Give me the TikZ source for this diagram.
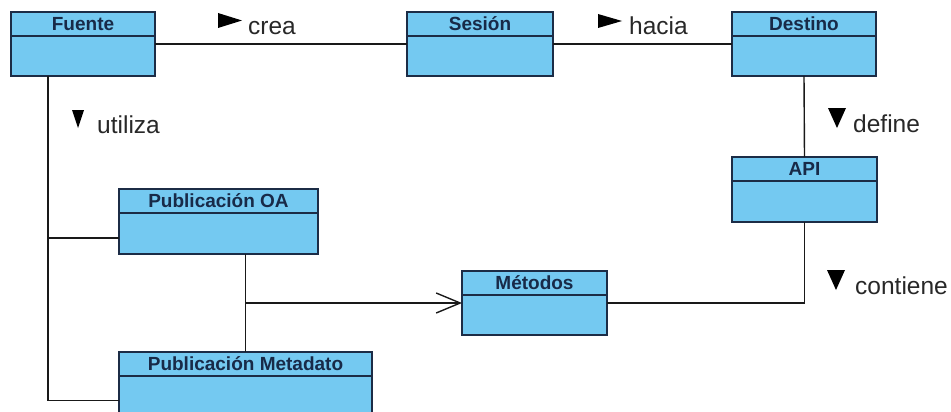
\documentclass[tikz,border=0pt]{standalone}
\usepackage{fontspec}
\setmainfont{Liberation Sans}
\usetikzlibrary{arrows.meta}
\definecolor{classfill}{RGB}{116,201,241}
\definecolor{classedge}{RGB}{28,44,70}
\definecolor{classtext}{RGB}{24,42,72}
\definecolor{labeltext}{RGB}{40,40,40}
\tikzset{
  classbox/.style={draw=classedge, fill=classfill, line width=1.3pt, inner sep=0pt, outer sep=0pt, anchor=north west},
  classrule/.style={draw=classedge, line width=1.3pt},
  classtitle/.style={text=classtext, font=\bfseries\fontsize{19}{20}\selectfont, inner sep=0pt, anchor=base},
  assoc/.style={draw=black!90, line width=1.4pt},
  rolelabel/.style={text=labeltext, font=\fontsize{24.5}{26}\selectfont, inner sep=0pt, anchor=base west},
  dirmark/.style={fill=black},
}
% \umlclass{name}{x}{y}{width}{height}{title}: class box with a title band
\newcommand{\umlclass}[6]{%
  \node[classbox, minimum width=#4pt, minimum height=#5pt] (#1) at (#2,#3) {};
  \draw[classrule] ([yshift=-24pt]#1.north west) -- ([yshift=-24pt]#1.north east);
  \node[classtitle] (#1-title) at ([yshift=-18.5pt]#1.north) {#6};
}
\begin{document}
\begin{tikzpicture}[x=1pt, y=-1pt]
  \useasboundingbox (0,0) rectangle (951,412);
  \clip (0,0) rectangle (951,412);
  \fill[white] (0,0) rectangle (951,412);

  % classes
  \umlclass{fuente}{11}{12}{144}{64}{Fuente}
  \umlclass{sesion}{407}{12}{146}{64}{Sesión}
  \umlclass{destino}{732}{12}{144}{64}{Destino}
  \umlclass{api}{732}{157}{145}{65}{API}
  \umlclass{puboa}{119}{189}{199}{65}{Publicación OA}
  \umlclass{metodos}{462}{271}{145}{64}{Métodos}
  \umlclass{pubmeta}{119}{352}{253}{66}{Publicación Metadato}

  % associations
  \draw[assoc] (fuente.east) -- (sesion.west);
  \draw[assoc] (sesion.east) -- (destino.west);
  \draw[assoc] (destino.south) -- (api.north);
  \draw[assoc] (api.south) |- (metodos.east);

  \coordinate (trunk) at ([xshift=37pt]fuente.south west);
  \coordinate (oaend) at ([yshift=-16.5pt]puboa.west);
  \coordinate (metaend) at ([yshift=-15.5pt]pubmeta.west);
  \draw[assoc] (trunk) |- (metaend);
  \draw[assoc] (trunk |- oaend) -- (oaend);

  \coordinate (oafoot) at (pubmeta.north |- puboa.south);
  \draw[assoc] (oafoot) -- (pubmeta.north);
  \draw[assoc, -{Straight Barb[length=24pt, width=20pt]}] (pubmeta.north |- metodos.west) -- (metodos.west);

  % role names with reading direction
  \node[rolelabel] (crea) at (248,35) {crea};
  \fill[dirmark] (218,13) -- (242,20.5) -- (218,28) -- cycle;
  \node[rolelabel] (hacia) at (629,35) {hacia};
  \fill[dirmark] (598,14) -- (622,21) -- (598,28) -- cycle;
  \node[rolelabel] (utiliza) at (97,133) {utiliza};
  \fill[dirmark] (72,110) -- (84,110) -- (78,128) -- cycle;
  \node[rolelabel] (define) at (853,132) {define};
  \fill[dirmark] (828,108) -- (846,108) -- (837,128) -- cycle;
  \node[rolelabel] (contiene) at (855,294) {contiene};
  \fill[dirmark] (827,270) -- (845,270) -- (836,290) -- cycle;
\end{tikzpicture}
\end{document}
